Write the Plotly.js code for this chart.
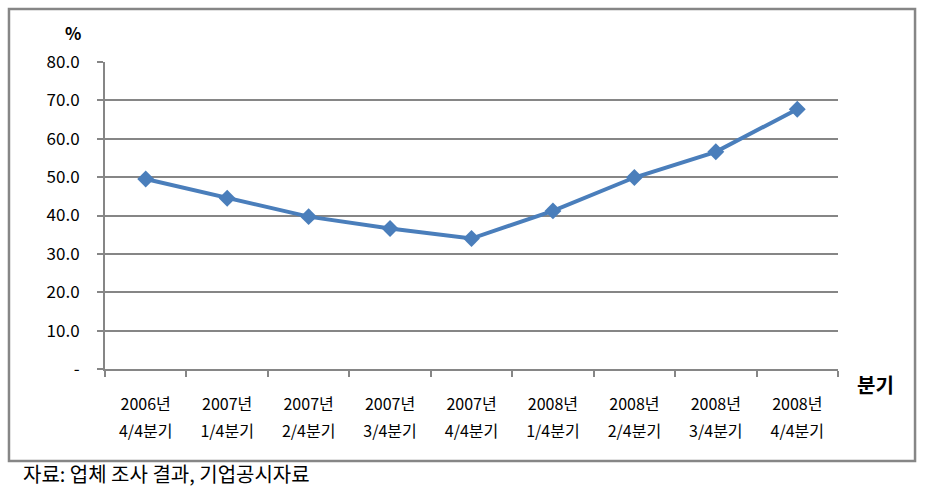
<!DOCTYPE html>
<html>
<head>
<meta charset="utf-8">
<script src="https://cdn.plot.ly/plotly-3.0.1.min.js"></script>
<style>
html,body{margin:0;padding:0;background:#fff;}
#chart{width:926px;height:494px;}
</style>
</head>
<body>
<div id="chart"></div>
<script>
var categories = ["c0","c1","c2","c3","c4","c5","c6","c7","c8"];
var yearLabels = ["2006년","2007년","2007년","2007년","2007년","2008년","2008년","2008년","2008년"];
var quarterLabels = ["4/4분기","1/4분기","2/4분기","3/4분기","4/4분기","1/4분기","2/4분기","3/4분기","4/4분기"];
var values = [49.5, 44.5, 39.7, 36.6, 34.0, 41.2, 49.9, 56.6, 67.7];
var yTickVals = [0,10,20,30,40,50,60,70,80];
var yTickText = ["-","10.0","20.0","30.0","40.0","50.0","60.0","70.0","80.0"];

var font = "'Noto Sans CJK KR', 'Noto Sans', sans-serif";
var gray = "#868686";

var traces = [
  {
    x: categories, y: values, type: "scatter", mode: "lines+markers",
    line: {color: "#4A7EBB", width: 4},
    marker: {symbol: "diamond", size: 13, color: "#4A7EBB"},
    hoverinfo: "skip", showlegend: false
  },
  {
    x: categories, y: values, xaxis: "x2", type: "scatter", mode: "markers",
    marker: {opacity: 0}, hoverinfo: "skip", showlegend: false
  }
];

var layout = {
  width: 926, height: 494,
  margin: {l: 105, r: 88, t: 62, b: 125},
  paper_bgcolor: "#fff", plot_bgcolor: "#fff",
  font: {family: font, color: "#000"},
  xaxis: {
    type: "category", range: [-0.5, 8.5], fixedrange: true,
    tickmode: "array", tickvals: categories, ticktext: yearLabels,
    tickson: "boundaries", ticks: "outside", ticklen: 6, tickcolor: gray, tickwidth: 2,
    showline: true, linecolor: gray, linewidth: 2,
    showgrid: false, zeroline: false,
    tickfont: {size: 16, family: font, color: "#000"},
    ticklabelstandoff: 20
  },
  xaxis2: {
    type: "category", range: [-0.5, 8.5], overlaying: "x", anchor: "y", side: "bottom",
    tickmode: "array", tickvals: categories, ticktext: quarterLabels,
    ticks: "", showline: false, showgrid: false, zeroline: false,
    tickfont: {size: 16, family: font, color: "#000"},
    ticklabelstandoff: 51
  },
  yaxis: {
    range: [0, 80], fixedrange: true,
    tickmode: "array", tickvals: yTickVals, ticktext: yTickText,
    ticks: "outside", ticklen: 6, tickcolor: gray, tickwidth: 2,
    showline: true, linecolor: gray, linewidth: 2,
    showgrid: true, gridcolor: gray, gridwidth: 2, zeroline: false,
    tickfont: {size: 17, family: font, color: "#000"},
    ticklabelstandoff: 14
  },
  shapes: [
    {type: "rect", xref: "paper", yref: "paper",
     x0: -0.1310, x1: 1.1051, y0: -0.2997, y1: 1.1726,
     line: {color: gray, width: 2.5}, fillcolor: "rgba(0,0,0,0)", layer: "below"}
  ],
  annotations: [
    {text: "<b>%</b>", xref: "paper", yref: "paper", x: -0.0437, y: 1.0945,
     showarrow: false, xanchor: "center", yanchor: "middle",
     font: {size: 17, family: font, color: "#000"}},
    {text: "<b>분기</b>", xref: "paper", yref: "paper", x: 1.0505, y: -0.052,
     showarrow: false, xanchor: "center", yanchor: "middle",
     font: {size: 20, family: font, color: "#000"}},
    {text: "자료: 업체 조사 결과, 기업공시자료", xref: "paper", yref: "paper",
     x: -0.1145, y: -0.342, showarrow: false, xanchor: "left", yanchor: "middle",
     font: {size: 20, family: "'Noto Sans CJK KR', sans-serif", color: "#000"}}
  ]
};

Plotly.newPlot("chart", traces, layout, {displayModeBar: false, staticPlot: true});
</script>
</body>
</html>
